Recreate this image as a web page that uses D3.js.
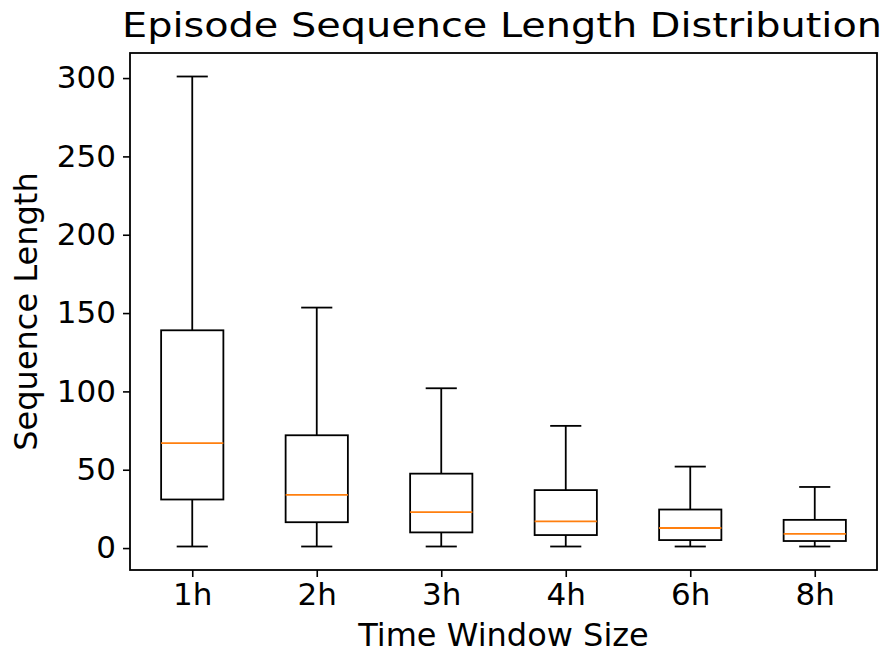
<!DOCTYPE html>
<html>
<head>
<meta charset="utf-8">
<script src="https://cdn.jsdelivr.net/npm/d3@7"></script>
<style>
  body { margin: 0; background: #fff; }
  text { font-family: "DejaVu Sans", sans-serif; fill: #000; }
</style>
</head>
<body>
<div id="chart"></div>
<script>
// box stats
var windows = ["1h", "2h", "3h", "4h", "6h", "8h"];
var whiskerLow = [1, 1, 1, 1, 1, 1];
var q1 = [31, 16.5, 10, 8.3, 5.1, 4.5];
var median = [67, 34, 23, 17, 12.8, 9];
var q3 = [139, 72, 47.5, 37, 24.6, 18];
var whiskerHigh = [301, 153.5, 102, 78, 52, 39];
var yTicks = [0, 50, 100, 150, 200, 250, 300];

var svgWidth = 889, svgHeight = 654;
var margin = { top: 53, right: 12, bottom: 84, left: 130 };
var width = svgWidth - margin.left - margin.right;
var height = svgHeight - margin.top - margin.bottom;

var svg = d3.select("#chart").append("svg")
  .attr("width", svgWidth)
  .attr("height", svgHeight);

var chartGroup = svg.append("g")
  .attr("transform", `translate(${margin.left}, ${margin.top})`);

var data = windows.map(function(w, i) {
  return { name: w, lo: whiskerLow[i], q1: q1[i], med: median[i], q3: q3[i], hi: whiskerHigh[i] };
});

// matplotlib style 5% margins
var yMin = d3.min(data, d => d.lo), yMax = d3.max(data, d => d.hi);
var pad = (yMax - yMin) * 0.05;
var yScale = d3.scaleLinear().domain([yMin - pad, yMax + pad]).range([height, 0]);
var xScale = d3.scalePoint().domain(windows).range([0, width]).padding(0.5);
var boxW = xScale.step() * 0.5;
var capW = boxW * 0.5;

// axes
var xAxis = chartGroup.append("g")
  .attr("transform", `translate(0, ${height})`)
  .call(d3.axisBottom(xScale).tickSize(7).tickPadding(6));
var yAxis = chartGroup.append("g")
  .call(d3.axisLeft(yScale).tickValues(yTicks).tickSize(7).tickPadding(7));

[xAxis, yAxis].forEach(function(a) {
  a.select(".domain").remove();
  a.selectAll("line").attr("stroke", "#000").attr("stroke-width", 1.6);
  a.selectAll("text").style("font-size", "31px").style("font-family", "DejaVu Sans");
});

var boxes = chartGroup.selectAll(".box")
  .data(data)
  .enter()
  .append("g")
  .attr("class", "box");

// whiskers
boxes.append("line")
  .attr("x1", d => xScale(d.name)).attr("x2", d => xScale(d.name))
  .attr("y1", d => yScale(d.q3)).attr("y2", d => yScale(d.hi));
boxes.append("line")
  .attr("x1", d => xScale(d.name)).attr("x2", d => xScale(d.name))
  .attr("y1", d => yScale(d.q1)).attr("y2", d => yScale(d.lo));
// caps
boxes.append("line")
  .attr("x1", d => xScale(d.name) - capW / 2).attr("x2", d => xScale(d.name) + capW / 2)
  .attr("y1", d => yScale(d.hi)).attr("y2", d => yScale(d.hi));
boxes.append("line")
  .attr("x1", d => xScale(d.name) - capW / 2).attr("x2", d => xScale(d.name) + capW / 2)
  .attr("y1", d => yScale(d.lo)).attr("y2", d => yScale(d.lo));
// box
boxes.append("rect")
  .attr("x", d => xScale(d.name) - boxW / 2)
  .attr("y", d => yScale(d.q3))
  .attr("width", boxW)
  .attr("height", d => yScale(d.q1) - yScale(d.q3))
  .attr("fill", "none");
boxes.selectAll("line, rect")
  .attr("stroke", "#000")
  .attr("stroke-width", 1.8);
// median
boxes.append("line")
  .attr("x1", d => xScale(d.name) - boxW / 2).attr("x2", d => xScale(d.name) + boxW / 2)
  .attr("y1", d => yScale(d.med)).attr("y2", d => yScale(d.med))
  .attr("stroke", "#ff7f0e")
  .attr("stroke-width", 1.8);

// frame
chartGroup.append("rect")
  .attr("width", width)
  .attr("height", height)
  .attr("fill", "none")
  .attr("stroke", "#000")
  .attr("stroke-width", 1.8);

// labels
svg.append("text")
  .attr("x", 502)
  .attr("y", 37)
  .attr("text-anchor", "middle")
  .attr("textLength", 760)
  .attr("lengthAdjust", "spacingAndGlyphs")
  .style("font-size", "34px")
  .text("Episode Sequence Length Distribution");

svg.append("text")
  .attr("x", margin.left + width / 2)
  .attr("y", 646)
  .attr("text-anchor", "middle")
  .style("font-size", "32px")
  .text("Time Window Size");

svg.append("text")
  .attr("transform", `translate(37, ${margin.top + height / 2}) rotate(-90)`)
  .attr("text-anchor", "middle")
  .style("font-size", "32px")
  .text("Sequence Length");
</script>
</body>
</html>
